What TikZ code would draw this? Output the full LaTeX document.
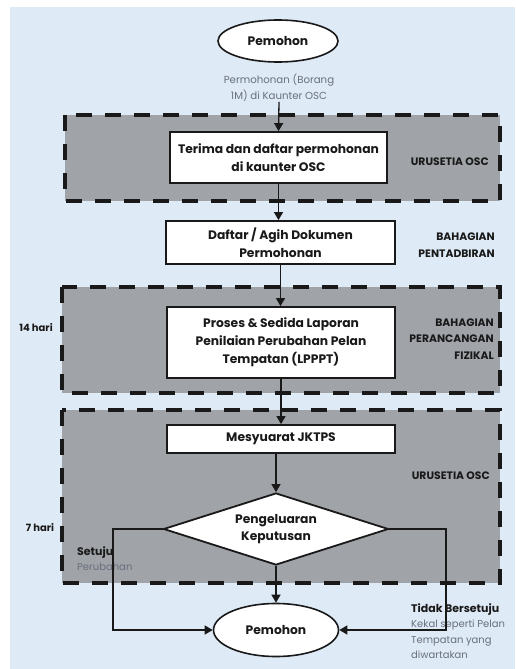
\documentclass[tikz,border=0pt]{standalone}
\usepackage{fontspec}
\setmainfont{Poppins}
\usetikzlibrary{shapes.geometric,arrows.meta}
\definecolor{bgblue}{RGB}{222,234,246}
\definecolor{zonegray}{RGB}{160,163,168}
\definecolor{ink}{RGB}{25,25,25}
\definecolor{softtext}{RGB}{105,112,124}
\newcommand{\outhead}[1]{{\bfseries\fontsize{11}{15.5}\selectfont\textcolor{ink}{#1}}}
\begin{document}
\begin{tikzpicture}[x=1pt,y=-1pt,
  every node/.style={inner sep=0pt, text=ink},
  zone/.style={draw=ink, fill=zonegray, line width=3.2pt, dash pattern=on 16pt off 13pt},
  stepbox/.style={draw=ink, fill=white, line width=1.8pt, rectangle, align=center, font=\bfseries\fontsize{12.3}{18}\selectfont},
  term/.style={draw=ink, fill=white, line width=1.6pt, ellipse, font=\bfseries\fontsize{12.3}{14}\selectfont},
  zonelabel/.style={font=\bfseries\fontsize{10.8}{16.5}\selectfont, align=right, anchor=east},
  daylabel/.style={font=\bfseries\fontsize{10}{12}\selectfont},
  softlabel/.style={font=\fontsize{10}{15.5}\selectfont, text=softtext, align=left, anchor=north west},
  conn/.style={draw=ink, line width=1.3pt},
  arr/.style={conn, -{Triangle[width=9pt,length=8pt]}}
]
\useasboundingbox (0,0) rectangle (515,669);
\fill[white] (0,0) rectangle (515,669);
\fill[bgblue] (10,7) rectangle (515,669);

% zones
\draw[zone] (65,115) rectangle (500,201);
\draw[zone] (62,287) rectangle (500,393);
\draw[zone] (62,410) rectangle (500,583);

% top terminal
\node[term, minimum width=120pt, minimum height=42pt] (p1) at (278,41) {Pemohon};
\node[font=\fontsize{10.2}{16}\selectfont, text=softtext, align=center] (lbl) at (279,88) {Permohonan (Borang\\1M) di Kaunter OSC};

% steps
\node[stepbox, minimum width=217pt, minimum height=51pt] (b1) at (278.5,157.5) {Terima dan daftar permohonan\\di kaunter OSC};
\node[stepbox, minimum width=229pt, minimum height=43pt] (b2) at (280.5,242.5) {Daftar / Agih Dokumen\\Permohonan};
\node[stepbox, minimum width=228pt, minimum height=71pt] (b3) at (281,342.5) {Proses \& Sedida Laporan\\Penilaian Perubahan Pelan\\Tempatan (LPPPT)};
\node[stepbox, minimum width=228pt, minimum height=28pt] (b4) at (281,439) {Mesyuarat JKTPS};
\node[draw=ink, fill=white, line width=1.8pt, diamond, aspect=3.1, minimum width=225pt, minimum height=72pt, align=center, font=\bfseries\fontsize{12.3}{17}\selectfont] (dia) at (276,529) {Pengeluaran\\Keputusan};
\node[term, minimum width=125pt, minimum height=53pt] (p2) at (276,630) {Pemohon};

% zone labels
\node[zonelabel] (u1) at (489,162) {URUSETIA OSC};
\node[zonelabel] (bp) at (495,245) {BAHAGIAN\\PENTADBIRAN};
\node[zonelabel] (bpf) at (494,339) {BAHAGIAN\\PERANCANGAN\\FIZIKAL};
\node[zonelabel] (u2) at (490,476) {URUSETIA OSC};
\node[daylabel] (d14) at (36,328) {14 hari};
\node[daylabel] (d7) at (40,528) {7 hari};

% outcome labels
\node[softlabel] (setuju) at (77,546) {\outhead{Setuju}\\Perubahan};
\begin{scope}
\clip (0,0) rectangle (515,669);
\node[softlabel] (tidak) at (411,603) {\outhead{Tidak Bersetuju}\\Kekal seperti Pelan\\Tempatan yang\\diwartakan};
\end{scope}

% connectors
\draw[arr] (lbl.south) -- (b1.north);
\draw[arr] (b1.south) -- (b1.south |- b2.north);
\draw[arr] (b2.south) -- (b2.south |- b3.north);
\draw[arr] (b3.south) -- (b3.south |- b4.north);
\draw[arr] (b4.south -| dia.north) -- (dia.north);
\draw[arr] (dia.south) -- (p2.north);
\coordinate (lc) at (113,529);
\coordinate (rc) at (446,529);
\draw[arr] (dia.west) -- (lc) |- (p2.west);
\draw[arr] (dia.east) -- (rc) |- (p2.east);
\end{tikzpicture}
\end{document}
